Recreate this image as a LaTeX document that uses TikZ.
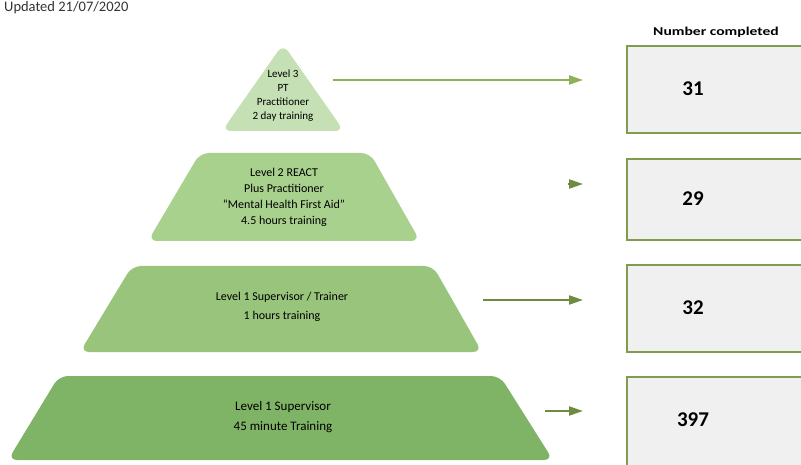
\documentclass[tikz,border=0pt]{standalone}
\usepackage{fontspec}
\usepackage{graphicx}
\setmainfont{Carlito}
\usetikzlibrary{arrows.meta}
\definecolor{lvA}{HTML}{C5E0B4}
\definecolor{lvB}{HTML}{A9D18E}
\definecolor{lvC}{HTML}{98C47C}
\definecolor{lvD}{HTML}{7FB466}
\definecolor{arrA}{HTML}{8DB255}
\definecolor{arrB}{HTML}{6F8C3E}
\definecolor{boxline}{HTML}{7F9C4F}
\definecolor{boxfill}{HTML}{F0F0F0}
\definecolor{titlegrey}{HTML}{333333}
\begin{document}
\begin{tikzpicture}[x=1pt,y=-1pt,
  level/.style={rounded corners=9pt, draw=none},
  lbl/.style={align=center, font=\fontsize{11.5}{15}\selectfont, text=black, inner sep=0pt},
  countbox/.style={draw=boxline, line width=1.6pt, fill=boxfill, minimum width=204pt, anchor=north west, inner sep=0pt},
  count/.style={font=\fontsize{21}{24}\selectfont\bfseries},
  arr/.style={-{Triangle[length=14pt,width=9pt]}, line width=2.2pt, shorten >=43pt}]
\clip (0,0) rectangle (801,465);
\fill[white] (0,0) rectangle (801,465);

% pyramid levels
\fill[lvA, level] (283,44) -- (344,131) -- (222,131) -- cycle;
\fill[lvB, level] (200,153) -- (370,153) -- (420,241) -- (148,241) -- cycle;
\fill[lvC, level] (132,266) -- (433,266) -- (482,352) -- (80,352) -- cycle;
\fill[lvD, level] (59,376) -- (500,376) -- (553,460) -- (8,460) -- cycle;

% labels
\node[lbl, font=\fontsize{11}{14}\selectfont] (t1) at (283,96) {Level 3\\PT\\Practitioner\\2 day training};
\node[lbl, font=\fontsize{12}{16}\selectfont] (t2) at (284,197) {Level 2 REACT\\Plus Practitioner\\``Mental Health First Aid''\\4.5 hours training};
\node[lbl, font=\fontsize{12}{19}\selectfont] (t3) at (282,307) {Level 1 Supervisor / Trainer\\1 hours training};
\node[lbl, font=\fontsize{13}{20}\selectfont] (t4) at (283,417) {Level 1 Supervisor\\45 minute Training};

\node[anchor=west, font=\fontsize{14.5}{16}\selectfont, text=titlegrey, inner sep=0pt] (upd) at (4,8) {Updated 21/07/2020};
\node[font=\fontsize{12}{14}\selectfont\bfseries, inner sep=0pt] (head) at (716,32) {\scalebox{1.3}[1]{Number completed}};

% count boxes
\node[countbox, minimum height=87pt] (b1) at (626,45) {};
\node[countbox, minimum height=81pt] (b2) at (626,158) {};
\node[countbox, minimum height=87pt] (b3) at (626,264) {};
\node[countbox, minimum height=95pt] (b4) at (626,376) {};
\node[count] (n1) at (693,89) {31};
\node[count] (n2) at (693,199) {29};
\node[count] (n3) at (693,308) {32};
\node[count] (n4) at (693,420) {397};

% arrows
\coordinate (s1) at (333,80);
\coordinate (s2) at (568,184);
\coordinate (s3) at (483,300);
\coordinate (s4) at (545,411);
\draw[arr, arrA] (s1) -- (s1 -| b1.west);
\draw[arr, arrB] (s2) -- (s2 -| b2.west);
\draw[arr, arrB] (s3) -- (s3 -| b3.west);
\draw[arr, arrB] (s4) -- (s4 -| b4.west);
\end{tikzpicture}
\end{document}
